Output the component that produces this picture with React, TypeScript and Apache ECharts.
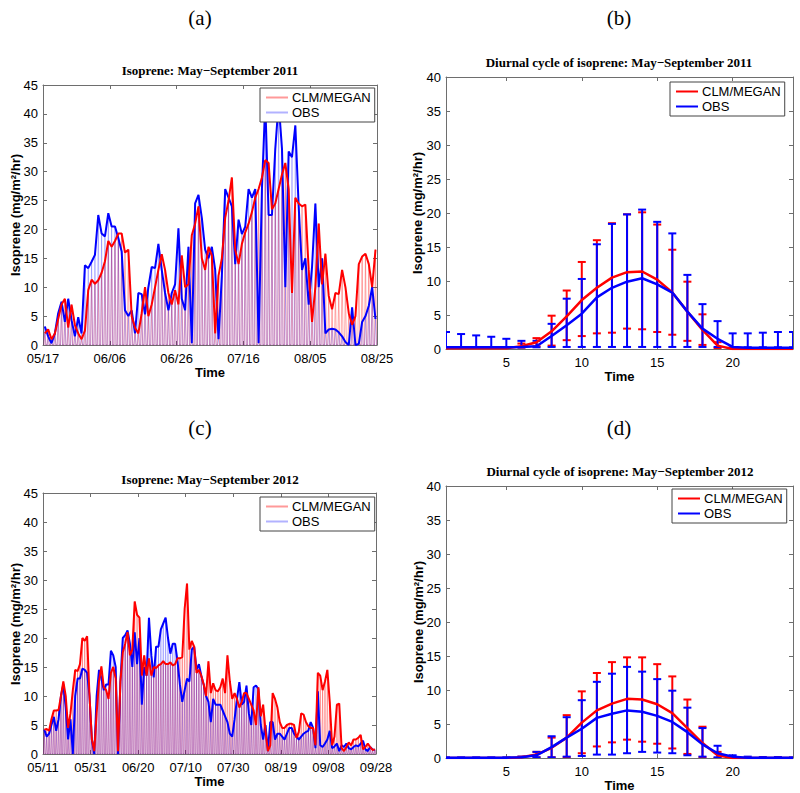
import React, { useEffect, useRef } from 'react';
import * as echarts from 'echarts';

// ---------- DATA ----------
const TICKS_2011 = ['05/17', '06/06', '06/26', '07/16', '08/05', '08/25'];
const TICKS_2012 = ['05/11', '05/31', '06/20', '07/10', '07/30', '08/19', '09/08', '09/28'];

// daily peak isoprene (mg/m2/hr), 2011 from 05/17
const CLM_2011 = [
  2.0, 2.7, 1.0, 2.0, 4.5, 7.0, 8.0, 3.0, 7.0, 3.5,
  2.0, 1.0, 2.5, 9.5, 11.3, 10.6, 11.2, 12.5, 14.5, 18.0,
  17.0, 18.0, 19.3, 19.3, 16.0, 16.5, 5.0, 3.0, 2.0, 5.5,
  10.0, 5.0, 7.0, 10.0, 13.0, 15.7, 13.0, 9.0, 7.0, 9.5,
  7.0, 15.5, 10.0, 10.5, 19.0, 21.0, 24.0, 15.0, 13.0, 17.0,
  15.5, 2.0, 12.0, 15.0, 22.0, 25.0, 29.0, 16.5, 14.0, 17.5,
  19.5, 21.0, 23.0, 25.5, 27.0, 29.0, 32.0, 31.5, 23.5, 24.5,
  27.0, 29.5, 31.5, 27.0, 9.0, 25.5, 24.5, 24.0, 24.3, 13.0,
  4.0, 10.0, 21.0, 10.5, 15.8, 8.5, 6.2, 9.0, 8.8, 13.0,
  10.0, 5.5, 3.5, 5.0, 14.0, 15.3, 15.8, 14.0, 10.0, 16.5,
];
const OBS_2011 = [
  3.2, 1.5, 0.3, 2.0, 5.5, 7.5, 4.0, 8.0, 4.3, 1.5,
  4.8, 2.0, 13.8, 13.3, 14.4, 15.6, 22.5, 19.3, 18.8, 22.8,
  20.5, 20.5, 18.5, 16.2, 6.0, 5.0, 6.0, 2.0, 9.0, 8.8,
  5.3, 10.0, 13.5, 13.3, 17.5, 13.0, 9.0, 6.0, 9.0, 10.5,
  20.2, 8.0, 6.0, 17.0, 0.3, 24.5, 26.0, 22.0, 16.5, 15.0,
  17.0, 13.0, 1.0, 12.0, 27.0, 25.5, 24.0, 14.0, 21.7, 19.2,
  20.5, 27.0, 25.5, 27.0, 0.3, 27.0, 42.0, 22.5, 22.5, 34.0,
  42.0, 34.0, 10.0, 33.5, 32.5, 38.0, 24.0, 13.0, 15.0, 7.0,
  13.5, 24.5, 10.0, 15.0, 2.0, 2.7, 2.8, 2.7, 2.2, 1.5,
  0.5, 0.0, 6.5, 0.0, 0.2, 4.0, 5.0, 6.8, 10.0, 4.5,
];

// daily peak isoprene, 2012 from 05/11
const CLM_2012 = [
  4.2, 4.3, 4.0, 6.0, 7.5, 7.5, 7.6, 10.0, 12.5, 10.0,
  4.5, 7.0, 11.0, 14.5, 14.3, 15.5, 20.0, 19.5, 20.3, 10.0,
  2.5, 0.5, 7.0, 12.5, 15.1, 11.5, 11.0, 9.5, 14.0, 15.0,
  13.0, 0.5, 12.5, 17.5, 19.0, 21.0, 17.0, 18.0, 26.3, 24.0,
  23.5, 13.5, 17.0, 13.5, 16.5, 13.5, 15.0, 14.8, 15.3, 15.5,
  16.0, 15.5, 15.5, 15.8, 15.3, 15.5, 16.5, 16.5, 16.7, 25.0,
  29.4, 18.0, 19.5, 18.5, 14.0, 14.5, 13.5, 12.0, 10.0, 16.0,
  10.5, 12.2, 11.0, 10.8, 11.5, 13.0, 10.5, 17.0, 12.5, 9.5,
  10.5, 9.5, 8.0, 9.0, 10.5, 10.5, 9.5, 8.5, 7.5, 5.0,
  11.5, 6.5, 8.5, 4.0, 0.5, 1.5, 10.5, 9.5, 8.0, 5.5,
  4.5, 4.5, 5.0, 5.2, 5.2, 5.0, 2.8, 3.8, 7.0, 6.8,
  5.5, 4.8, 4.5, 4.5, 1.5, 14.0, 13.5, 11.0, 12.5, 14.5,
  9.0, 1.5, 3.0, 8.5, 8.7, 1.0, 0.5, 1.2, 2.0, 1.5,
  2.5, 2.5, 2.8, 3.3, 0.8, 1.2, 1.8, 1.2, 0.7, 0.8,
];
const OBS_2012 = [
  4.2, 3.0, 3.5, 5.0, 6.4, 4.0, 6.0, 10.0, 12.0, 8.0,
  2.5, 6.0, 0.0, 10.0, 13.0, 13.0, 14.7, 14.5, 14.0, 10.0,
  2.5, 0.0, 10.0, 14.5, 13.0, 11.0, 12.0, 12.0, 17.8, 17.0,
  15.0, 0.0, 12.5, 20.0, 20.5, 21.3, 19.0, 15.0, 21.0, 15.5,
  20.0, 8.5, 15.0, 13.5, 23.5, 17.0, 13.2, 18.5, 18.5, 21.5,
  22.5, 23.5, 20.0, 17.3, 19.0, 19.0, 16.0, 12.0, 9.0, 11.0,
  13.0, 12.5, 18.0, 18.5, 14.5, 15.5, 13.5, 12.0, 10.0, 9.0,
  5.5, 9.5, 8.5, 8.5, 8.5, 7.5, 6.5, 5.5, 3.5, 3.0,
  6.0, 9.5, 12.4, 8.5, 9.0, 11.8, 7.0, 5.0, 11.5, 11.8,
  11.2, 5.0, 2.5, 5.0, 0.5, 5.5, 5.5, 2.5, 3.5, 3.5,
  3.0, 2.5, 3.5, 4.5, 4.5, 3.5, 3.0, 2.5, 3.0, 3.5,
  3.8, 4.0, 5.5, 4.5, 1.0, 10.8, 1.5, 1.2, 1.8, 2.5,
  4.0, 1.0, 1.3, 1.8, 0.5, 1.5, 1.2, 1.8, 1.0, 0.8,
  1.2, 1.5, 1.3, 1.8, 2.3, 0.8, 0.5, 1.2, 0.8, 0.7,
];

// diurnal cycle, hours 1..24
const HOURS = [1, 2, 3, 4, 5, 6, 7, 8, 9, 10, 11, 12, 13, 14, 15, 16, 17, 18, 19, 20, 21, 22, 23, 24];
const HOUR_TICKS = [5, 10, 15, 20];

const CLM_MEAN_2011 = [0.1, 0.1, 0.1, 0.1, 0.1, 0.4, 1.0, 2.6, 4.8, 7.2, 9.0, 10.5, 11.3, 11.4, 10.2, 8.3, 5.5, 2.8, 0.5, 0, 0, 0, 0, 0];
const CLM_HI_2011 = [0.1, 0.1, 0.1, 0.1, 0.2, 0.8, 1.6, 4.9, 8.6, 12.8, 16.0, 18.5, 19.8, 20.1, 18.3, 14.6, 9.9, 5.1, 1.0, 0, 0, 0, 0, 0];
const CLM_LO_2011 = [0.1, 0.1, 0.1, 0.1, 0.1, 0.2, 0.4, 0.5, 1.3, 1.9, 2.3, 2.4, 3.0, 2.9, 2.5, 2.1, 1.2, 0.6, 0.1, 0, 0, 0, 0, 0];
const OBS_MEAN_2011 = [0.25, 0.25, 0.25, 0.25, 0.25, 0.3, 0.4, 1.9, 3.5, 5.2, 7.6, 9.0, 9.9, 10.4, 9.5, 8.3, 5.5, 3.0, 1.5, 0.3, 0.2, 0.2, 0.2, 0.2];
const OBS_HI_2011 = [2.5, 2.2, 2.0, 1.8, 1.5, 1.2, 1.2, 3.7, 7.4, 10.3, 15.4, 18.4, 19.8, 20.5, 18.7, 17.0, 10.9, 6.6, 4.1, 2.3, 2.3, 2.4, 2.5, 2.5];
const OBS_LO_2011 = [0.25, 0.25, 0.25, 0.25, 0.25, 0.25, 0.25, 0.3, 0.3, 0.3, 0.3, 0.3, 0.3, 0.3, 0.3, 0.3, 0.3, 0.3, 0.3, 0.25, 0.25, 0.25, 0.25, 0.25];

const CLM_MEAN_2012 = [0, 0, 0, 0, 0, 0.1, 0.5, 1.5, 3.0, 5.2, 7.0, 8.0, 8.7, 8.6, 7.9, 6.6, 4.4, 2.2, 0.4, 0, 0, 0, 0, 0];
const CLM_HI_2012 = [0, 0, 0, 0, 0, 0.2, 0.9, 3.0, 6.3, 9.8, 12.5, 14.1, 14.8, 14.8, 13.8, 12.0, 8.6, 4.6, 0.9, 0.1, 0, 0, 0, 0];
const CLM_LO_2012 = [0, 0, 0, 0, 0, 0, 0.1, 0.1, 0.1, 0.7, 1.7, 2.3, 2.7, 2.4, 2.1, 1.4, 0.6, 0.1, 0, 0, 0, 0, 0, 0];
const OBS_MEAN_2012 = [0.05, 0.05, 0.05, 0.05, 0.05, 0.1, 0.4, 1.6, 3.0, 4.3, 5.9, 6.5, 7.0, 6.8, 6.2, 5.3, 3.8, 2.0, 0.7, 0.2, 0.05, 0.05, 0.05, 0.05];
const OBS_HI_2012 = [0.1, 0.1, 0.1, 0.1, 0.1, 0.2, 0.9, 3.2, 6.0, 8.5, 11.2, 12.4, 13.4, 12.7, 11.6, 9.9, 7.4, 4.4, 1.8, 0.4, 0.2, 0.15, 0.15, 0.1];
const OBS_LO_2012 = [0, 0, 0, 0, 0, 0, 0.1, 0.1, 0.2, 0.3, 0.5, 0.5, 0.7, 0.9, 0.8, 0.7, 0.4, 0.2, 0.1, 0.05, 0, 0, 0, 0];

// time of day (fraction of day) for night zero, daily peak, night zero
const DAWN = 0.25;
const NOON = 0.55;
const DUSK = 0.85;

// ---------- HELPERS ----------
const SANS = '"Liberation Sans", Arial, sans-serif';
const SERIF = '"Liberation Serif", "Times New Roman", serif';
const FRAME = '#6e6e6e';
const RED = '#ff0000';
const BLUE = '#0000ff';

function hourly(vals: number[]) {
  const out: number[][] = [];
  vals.forEach((v, i) => {
    out.push([i + DAWN, 0], [i + NOON, v], [i + DUSK, 0]);
  });
  return out;
}
function peaks(vals: number[]) {
  return vals.map((v, i) => [i + NOON, v]);
}

function axesFor(gi: number, xmin: number, xmax: number, xint: number | null, fmt: any, ymax: number, custom: number[] | null, nameGap: number) {
  const tick = { show: true, inside: true, length: 4, lineStyle: { color: FRAME, width: 1 } } as any;
  const line = { show: true, onZero: false, lineStyle: { color: FRAME, width: 1 } };
  const common: any = { type: 'value', gridIndex: gi, min: xmin, max: xmax, splitLine: { show: false } };
  if (xint !== null) common.interval = xint;
  const tickB: any = { ...tick };
  const labelB: any = { color: '#000', fontSize: 13, fontFamily: SANS, margin: 7, formatter: fmt, showMinLabel: true, showMaxLabel: true };
  if (custom) {
    tickB.customValues = custom;
    labelB.customValues = custom;
  }
  const xs = [
    {
      ...common, position: 'bottom', axisLine: line, axisTick: tickB, axisLabel: labelB,
      name: 'Time', nameLocation: 'middle', nameGap,
      nameTextStyle: { fontWeight: 'bold', fontSize: 13, fontFamily: SANS, color: '#000' },
    },
    { ...common, position: 'top', axisLine: line, axisTick: { ...tickB }, axisLabel: { show: false } },
  ];
  const ycommon: any = { type: 'value', gridIndex: gi, min: 0, max: ymax, interval: 5, splitLine: { show: false } };
  const ys = [
    { ...ycommon, position: 'left', axisLine: line, axisTick: tick, axisLabel: { color: '#000', fontSize: 13, fontFamily: SANS, margin: 5 } },
    { ...ycommon, position: 'right', axisLine: line, axisTick: tick, axisLabel: { show: false } },
  ];
  return { xs, ys };
}

function errSeries(name: string, gi: number, lo: number[], hi: number[], color: string) {
  return {
    type: 'custom', name, xAxisIndex: gi * 2, yAxisIndex: gi * 2, clip: true, z: 3,
    data: HOURS.map((h, i) => [h, lo[i], hi[i]]),
    renderItem: (params: any, api: any) => {
      const x = api.value(0);
      const p1 = api.coord([x, api.value(1)]);
      const p2 = api.coord([x, api.value(2)]);
      const w = 4;
      const style = { stroke: color, lineWidth: 2 };
      return {
        type: 'group',
        children: [
          { type: 'line', shape: { x1: p1[0], y1: p1[1], x2: p2[0], y2: p2[1] }, style },
          { type: 'line', shape: { x1: p1[0] - w, y1: p1[1], x2: p1[0] + w, y2: p1[1] }, style },
          { type: 'line', shape: { x1: p2[0] - w, y1: p2[1], x2: p2[0] + w, y2: p2[1] }, style },
        ],
      };
    },
  };
}

function meanLine(name: string, gi: number, vals: number[], color: string) {
  return {
    type: 'line', name, xAxisIndex: gi * 2, yAxisIndex: gi * 2, showSymbol: false, symbol: 'none', z: 4,
    data: HOURS.map((h, i) => [h, vals[i]]),
    lineStyle: { color, width: 2.5 }, itemStyle: { color },
  };
}

function timeSeries(gi: number, tag: string, clm: number[], obs: number[]) {
  return [
    {
      type: 'line', name: 'CLM/MEGAN|' + tag, xAxisIndex: gi * 2, yAxisIndex: gi * 2, showSymbol: false, symbol: 'none', z: 2,
      data: hourly(clm), lineStyle: { color: 'rgba(255,0,0,0.4)', width: 0.8 }, itemStyle: { color: 'rgba(255,0,0,0.6)' },
    },
    {
      type: 'line', name: 'OBS|' + tag, xAxisIndex: gi * 2, yAxisIndex: gi * 2, showSymbol: false, symbol: 'none', z: 2,
      data: hourly(obs), lineStyle: { color: 'rgba(0,0,255,0.3)', width: 0.8 }, itemStyle: { color: 'rgba(0,0,255,0.6)' },
    },
    {
      type: 'line', name: 'envOBS' + tag, xAxisIndex: gi * 2, yAxisIndex: gi * 2, showSymbol: false, symbol: 'none', z: 3,
      data: peaks(obs), lineStyle: { color: BLUE, width: 2 },
    },
    {
      type: 'line', name: 'envCLM' + tag, xAxisIndex: gi * 2, yAxisIndex: gi * 2, showSymbol: false, symbol: 'none', z: 3,
      data: peaks(clm), lineStyle: { color: RED, width: 2 },
    },
  ];
}

function legendAt(left: number, top: number, tag: string) {
  return {
    left, top, orient: 'vertical', selectedMode: false,
    data: ['CLM/MEGAN|' + tag, 'OBS|' + tag],
    formatter: (n: string) => n.split('|')[0],
    backgroundColor: '#fff', borderColor: '#444', borderWidth: 1, borderRadius: 0,
    padding: [3, 4, 3, 5], itemGap: 2, itemWidth: 22, itemHeight: 14,
    itemStyle: { color: 'rgba(0,0,0,0)', borderWidth: 0, opacity: 0 },
    textStyle: { fontSize: 13, fontFamily: SANS, color: '#000', padding: [0, 0, 0, -1] },
    z: 10,
  };
}

export default function App() {
  const ref = useRef<HTMLDivElement>(null);
  useEffect(() => {
    if (!ref.current) return;
    const chart = echarts.init(ref.current, undefined, { renderer: 'svg' });
    const a = axesFor(0, 0, 100, 20, (v: number) => TICKS_2011[Math.round(v / 20)] ?? '', 45, null, 17);
    const b = axesFor(1, 1, 24, null, (v: number) => String(v), 40, HOUR_TICKS, 19);
    const c = axesFor(2, 0, 140, 20, (v: number) => TICKS_2012[Math.round(v / 20)] ?? '', 45, null, 17);
    const d = axesFor(3, 1, 24, null, (v: number) => String(v), 40, HOUR_TICKS, 18);

    const txt = (x: number, y: number, text: string, font: string, rot = 0) => ({
      type: 'text', x, y, rotation: rot, z: 20,
      style: { text, font, fill: '#000', align: 'center', verticalAlign: 'middle' },
    });
    const yName = 'Isoprene (mg/m²/hr)';
    const titleFont = `bold 13px ${SERIF}`;
    const labFont = `bold 13px ${SANS}`;
    const panFont = `21px ${SERIF}`;

    const option: any = {
      animation: false,
      backgroundColor: '#fff',
      textStyle: { fontFamily: SANS },
      grid: [
        { left: 43, top: 85, width: 334, height: 260 },
        { left: 446, top: 77, width: 347, height: 272 },
        { left: 43, top: 493, width: 333, height: 261 },
        { left: 446, top: 486, width: 347, height: 272 },
      ],
      xAxis: [...a.xs, ...b.xs, ...c.xs, ...d.xs],
      yAxis: [...a.ys, ...b.ys, ...c.ys, ...d.ys],
      legend: [legendAt(260, 88, 'a'), legendAt(670, 82, 'b'), legendAt(260, 497, 'c'), legendAt(672, 489, 'd')],
      series: [
        ...timeSeries(0, 'a', CLM_2011, OBS_2011),
        ...timeSeries(2, 'c', CLM_2012, OBS_2012),
        errSeries('errCLMb', 1, CLM_LO_2011, CLM_HI_2011, RED),
        errSeries('errOBSb', 1, OBS_LO_2011, OBS_HI_2011, BLUE),
        meanLine('CLM/MEGAN|b', 1, CLM_MEAN_2011, RED),
        meanLine('OBS|b', 1, OBS_MEAN_2011, BLUE),
        errSeries('errCLMd', 3, CLM_LO_2012, CLM_HI_2012, RED),
        errSeries('errOBSd', 3, OBS_LO_2012, OBS_HI_2012, BLUE),
        meanLine('CLM/MEGAN|d', 3, CLM_MEAN_2012, RED),
        meanLine('OBS|d', 3, OBS_MEAN_2012, BLUE),
      ],
      graphic: [
        txt(200, 18, '(a)', panFont),
        txt(619, 18, '(b)', panFont),
        txt(200, 428, '(c)', panFont),
        txt(619, 428, '(d)', panFont),
        txt(210, 70, 'Isoprene: May\u2212September 2011', titleFont),
        txt(619, 62, 'Diurnal cycle of isoprene: May\u2212September 2011', titleFont),
        txt(210, 479, 'Isoprene: May\u2212September 2012', titleFont),
        txt(620, 471, 'Diurnal cycle of isoprene: May\u2212September 2012', titleFont),
        txt(15, 215, yName, labFont, Math.PI / 2),
        txt(417, 213, yName, labFont, Math.PI / 2),
        txt(15, 624, yName, labFont, Math.PI / 2),
        txt(418, 622, yName, labFont, Math.PI / 2),
      ],
    };
    chart.setOption(option);
    return () => chart.dispose();
  }, []);
  return <div ref={ref} style={{ position: 'fixed', left: 0, top: 0, width: 800, height: 793, background: '#fff' }} />;
}
